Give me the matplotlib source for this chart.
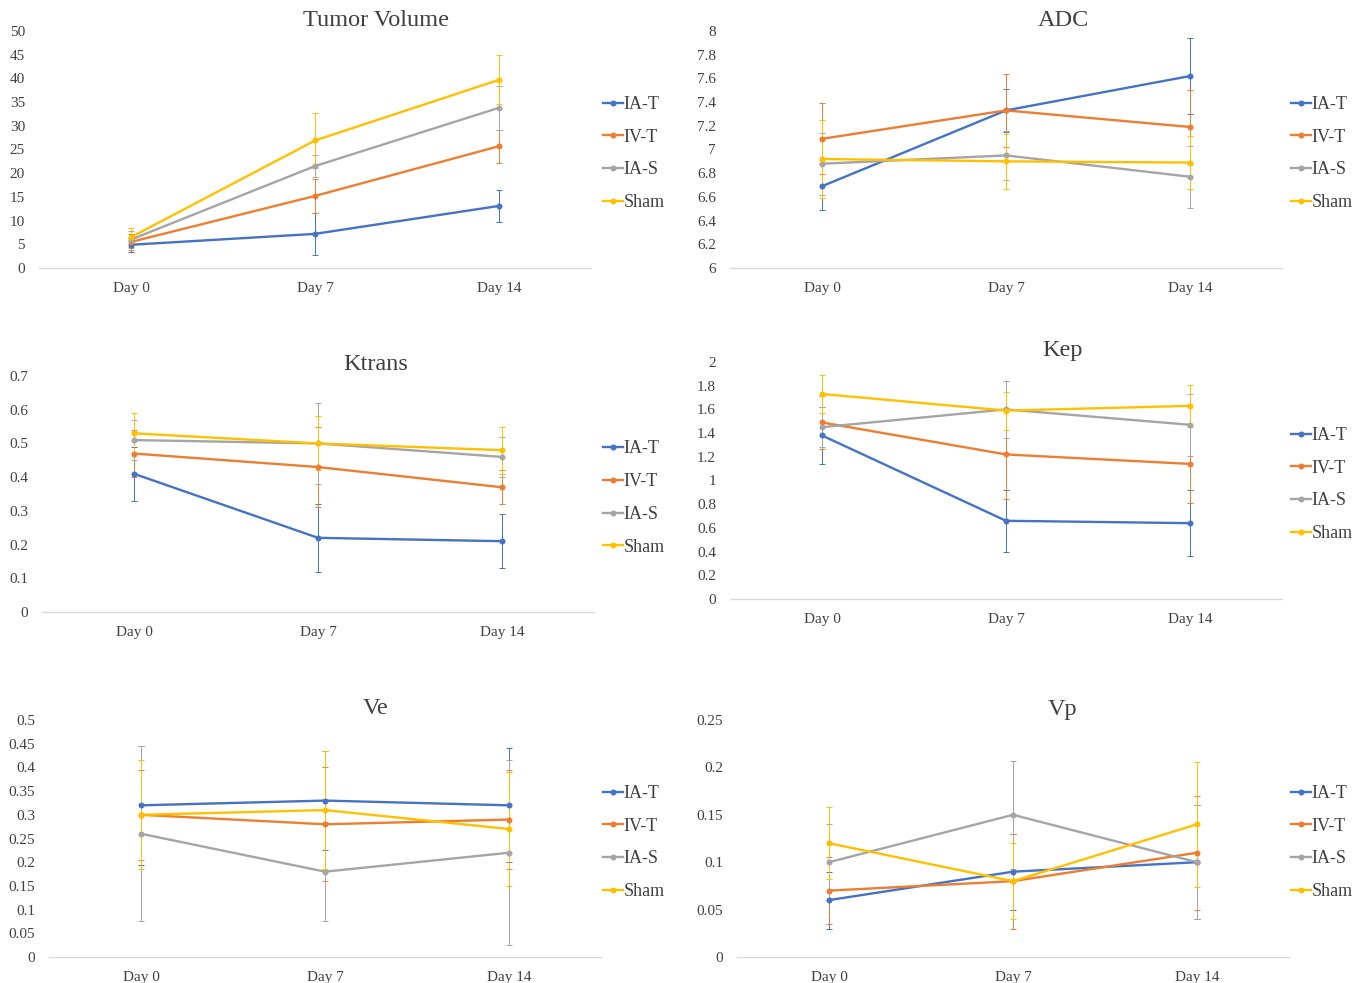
import matplotlib.pyplot as plt

plt.rcParams['font.family'] = ['Liberation Serif', 'DejaVu Serif']

days = ["Day 0", "Day 7", "Day 14"]
groups = ["IA-T", "IV-T", "IA-S", "Sham"]
colors = ["#4472C4", "#ED7D31", "#A5A5A5", "#FFC000"]

# means per group (IA-T, IV-T, IA-S, Sham), and error (SD)
tumor_mean = [[4.9, 7.2, 13.1], [5.5, 15.2, 25.7], [6.0, 21.5, 33.8], [6.5, 26.9, 39.7]]
tumor_err = [[1.5, 4.5, 3.4], [1.6, 3.5, 3.5], [1.8, 2.3, 4.6], [2.0, 5.9, 5.2]]

adc_mean = [[6.69, 7.33, 7.62], [7.09, 7.33, 7.19], [6.88, 6.95, 6.77], [6.92, 6.90, 6.89]]
adc_err = [[0.2, 0.18, 0.32], [0.3, 0.31, 0.31], [0.26, 0.21, 0.26], [0.33, 0.23, 0.22]]

ktrans_mean = [[0.41, 0.22, 0.21], [0.47, 0.43, 0.37], [0.51, 0.50, 0.46], [0.53, 0.50, 0.48]]
ktrans_err = [[0.08, 0.10, 0.08], [0.07, 0.12, 0.05], [0.06, 0.12, 0.06], [0.06, 0.08, 0.07]]

kep_mean = [[1.38, 0.66, 0.64], [1.49, 1.22, 1.14], [1.45, 1.60, 1.47], [1.73, 1.59, 1.63]]
kep_err = [[0.24, 0.26, 0.28], [0.22, 0.38, 0.33], [0.17, 0.24, 0.26], [0.16, 0.16, 0.18]]

ve_mean = [[0.32, 0.33, 0.32], [0.30, 0.28, 0.29], [0.26, 0.18, 0.22], [0.30, 0.31, 0.27]]
ve_err = [[0.125, 0.105, 0.12], [0.095, 0.12, 0.105], [0.185, 0.105, 0.195], [0.115, 0.125, 0.12]]

vp_mean = [[0.06, 0.09, 0.10], [0.07, 0.08, 0.11], [0.10, 0.15, 0.10], [0.12, 0.08, 0.14]]
vp_err = [[0.03, 0.04, 0.06], [0.035, 0.05, 0.06], [0.04, 0.057, 0.06], [0.038, 0.04, 0.066]]

W, H = 1364, 983

panels = [
    # title, means, errs, ylim, yticks, axes box (x0, x1, ytop, ybottom), title pos, legend pos
    ("Tumor Volume", tumor_mean, tumor_err, (0, 50), [0, 5, 10, 15, 20, 25, 30, 35, 40, 45, 50],
     (39, 591, 31, 268), (376, 20), (603, 153.5)),
    ("ADC", adc_mean, adc_err, (6, 8), [6, 6.2, 6.4, 6.6, 6.8, 7, 7.2, 7.4, 7.6, 7.8, 8],
     (730, 1282, 31, 268), (1063, 20), (1291, 153.5)),
    ("Ktrans", ktrans_mean, ktrans_err, (0, 0.7), [0, 0.1, 0.2, 0.3, 0.4, 0.5, 0.6, 0.7],
     (42, 594, 376, 612), (376, 364), (603, 498)),
    ("Kep", kep_mean, kep_err, (0, 2), [0, 0.2, 0.4, 0.6, 0.8, 1, 1.2, 1.4, 1.6, 1.8, 2],
     (730, 1282, 362, 599), (1063, 351), (1291, 484.5)),
    ("Ve", ve_mean, ve_err, (0, 0.5), [0, 0.05, 0.1, 0.15, 0.2, 0.25, 0.3, 0.35, 0.4, 0.45, 0.5],
     (49, 601, 720, 957), (376, 708), (603, 842.5)),
    ("Vp", vp_mean, vp_err, (0, 0.25), [0, 0.05, 0.1, 0.15, 0.2, 0.25],
     (737, 1289, 720, 957), (1063, 709), (1291, 842.5)),
]

fig = plt.figure(figsize=(W / 100, H / 100), dpi=100)

for title, means, errs, ylim, yticks, box, tpos, lpos in panels:
    x0, x1, yt, yb = box
    ax = fig.add_axes([x0 / W, 1 - yb / H, (x1 - x0) / W, (yb - yt) / H])
    xs = [0.5, 1.5, 2.5]
    handles = []
    for g, m, e, c in zip(groups, means, errs, colors):
        ax.errorbar(xs, m, yerr=e, color=c, capsize=2, capthick=0.7,
                    elinewidth=0.7, fmt='none', zorder=2)
        h, = ax.plot(xs, m, color=c, lw=1.7, marker='o', ms=3.3, label=g, zorder=3)
        handles.append(h)
    ax.set_xlim(0, 3)
    ax.set_ylim(*ylim)
    ax.set_xticks(xs)
    ax.set_xticklabels(days, fontsize=11, color="#404040")
    ax.set_yticks(yticks)
    ax.set_yticklabels([f"{v:g}" for v in yticks], fontsize=11, color="#404040")
    ax.tick_params(axis='x', length=0, pad=10)
    ax.tick_params(axis='y', length=0, pad=10)
    for s in ['top', 'right', 'left']:
        ax.spines[s].set_visible(False)
    ax.spines['bottom'].set_color("#D9D9D9")
    ax.spines['bottom'].set_linewidth(1)
    fig.text(tpos[0] / W, 1 - tpos[1] / H, title, fontsize=17.5, color="#404040",
             ha='center', va='center')
    fig.legend(handles=handles, loc='center left',
               bbox_to_anchor=(lpos[0] / W, 1 - lpos[1] / H),
               frameon=False, fontsize=13, handlelength=1.1, handletextpad=0.05,
               labelspacing=0.87, borderpad=0, borderaxespad=0, labelcolor="#404040")

fig.savefig("out.png", dpi=100)
